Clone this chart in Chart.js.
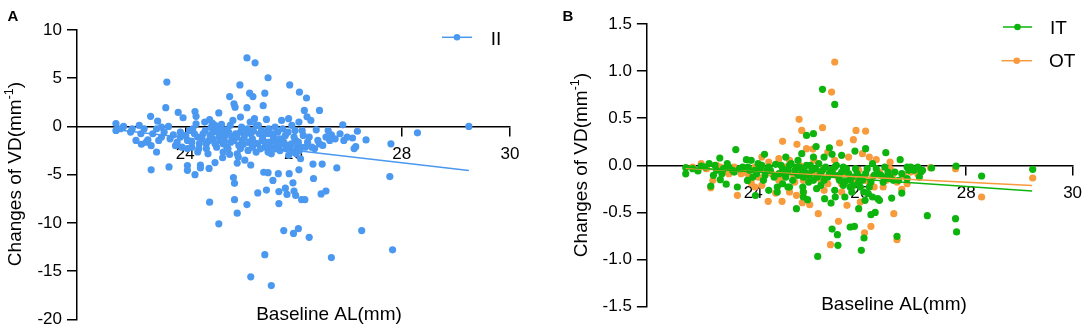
<!DOCTYPE html>
<html><head><meta charset="utf-8">
<script src="https://cdn.jsdelivr.net/npm/chart.js@4.4.1/dist/chart.umd.min.js"></script>
<style>
html,body{margin:0;padding:0;background:#fff;overflow:hidden;}
#wrap{position:relative;width:1084px;height:328px;}
#ca{position:absolute;left:0;top:0;}
#cb{position:absolute;left:540px;top:0;}
</style></head>
<body><div id="wrap"><canvas id="ca" width="540" height="328"></canvas><canvas id="cb" width="544" height="328"></canvas></div>
<script>
// ---- Panel A data (II) ----
const aX = [29.24,28.29,27.80,27.78,27.83,27.26,26.70,26.80,26.91,27.18,27.34,27.15,27.09,26.93,26.48,26.25,26.29,26.51,26.60,26.53,26.36,26.37,26.29,26.09,26.00,25.82,25.47,25.21,25.59,25.14,24.96,24.91,24.62,24.45,24.91,24.89,25.34,25.50,25.53,25.73,25.73,25.85,25.88,25.99,26.01,26.04,26.15,26.21,25.92,26.10,26.13,25.72,25.62,25.45,25.21,25.14,25.29,25.53,25.01,25.93,26.11,26.24,25.47,25.19,25.25,24.82,23.66,23.64,23.87,24.18,24.20,24.62,24.90,24.92,25.14,25.44,26.20,23.36,23.49,23.96,23.37,23.70,24.04,24.04,24.18,24.28,24.28,24.44,24.55,24.69,24.23,23.47,23.37,23.19,23.31,22.72,22.72,23.02,23.15,23.24,23.47,23.56,23.69,23.78,23.56,23.82,23.91,23.91,24.04,24.04,24.12,24.14,24.33,24.44,24.36,24.45,24.55,24.64,24.67,24.58,24.74,24.77,24.82,24.83,24.90,24.96,25.02,25.05,25.10,24.96,25.02,25.15,25.21,25.24,25.28,25.31,25.41,25.42,25.47,25.50,25.53,25.59,25.66,25.66,25.72,25.78,25.85,25.88,25.91,25.97,26.04,26.05,26.10,26.13,26.16,26.22,26.32,26.39,26.48,26.54,26.64,26.70,26.77,27.12,26.42,24.39,24.51,24.64,24.70,24.80,24.86,24.93,24.99,25.09,25.18,25.24,25.34,25.37,25.43,25.56,25.63,25.69,25.75,25.82,25.94,26.01,26.07,24.51,24.58,24.48,24.23,24.26,24.17,24.39,24.70,25.02,25.31,25.53,25.75,25.91,
  22.80,22.86,22.99,23.09,23.18,23.28,23.40,23.51,23.61,23.72,23.85,23.94,24.01,24.08,24.12,24.20,24.25,24.31,24.37,24.42,24.46,24.50,24.55,24.59,24.63,24.67,24.72,24.76,24.79,24.84,24.88,24.95,24.98,25.04,25.07,25.12,25.16,25.20,25.26,25.29,25.35,25.39,25.45,25.48,25.54,25.58,25.61,25.67,25.71,25.77,25.80,25.86,25.90,25.96,25.99,26.03,26.09,26.11,26.18,26.26,26.34,26.45,26.60,26.67,26.86,26.99];
const aY = [0,-0.66,-1.8,-5.2,-12.8,-10.8,-13.6,-4.3,0.17,-0.5,-1.4,-2.1,-1.2,-1.45,1.66,1.0,-1.1,-7.0,-6.7,-3.9,-3.9,-5.4,-11.5,-10.6,-11.1,-10.8,-13.3,-15.6,-16.5,-8.1,-9.0,-7.6,-10.1,-7.85,-5.9,-5.3,-6.9,-6.6,-4.8,-8.0,-6.75,-6.4,-7.05,-5.85,-6.7,-7.15,-7.6,-7.6,-4.9,-4.5,-3.35,-4.9,-5.6,-4.75,-4.0,7.1,6.6,5.05,4.3,4.3,3.55,2.95,3.45,3.45,3.1,3.1,4.6,1.95,1.45,1.55,1.05,1.4,2.35,2.0,1.95,2.15,1.66,1.05,0.55,0.9,-4.5,-4.2,-4.05,-4.55,-5.0,-4.3,-4.0,-4.35,-3.75,-3.25,-2.65,-2.65,-2.0,-1.85,-1.4,0.3,-0.42,-0.24,0.1,-0.24,-0.24,-0.07,0,-0.87,-1.1,-2.0,-1.1,-0.6,-1.45,-2.3,-2.15,-0.24,-0.76,-1.45,0.45,0.7,0.1,-0.24,-0.76,-2.15,-0.93,-2.15,-2.9,0.1,-1.45,-2.84,-0.6,-1.45,-3.5,-3.8,0.97,-0.24,-0.76,-2.15,0.8,0.1,-0.42,-1.45,-2.15,0.73,-0.76,-2.84,-0.07,-1.45,-2.15,0.62,-0.93,-1.97,0.8,0.1,-1.45,-2.84,0.45,-2.15,-0.42,-2.15,0.62,-2.3,-1.8,-1.97,-0.42,-0.87,-1.28,-2.3,-0.35,-1.8,-1.28,-1.45,-1.8,-0.59,-1.1,-0.76,-1.97,-1.1,-1.63,-1.28,-1.8,-0.76,-1.1,-1.63,-1.1,-1.8,-1.28,-1.63,-2.3,-1.1,-2.15,-0.59,-0.07,-0.07,-1.1,-1.8,-0.76,-2.3,-2.66,-2.3,-2.66,-2.66,-2.5,-3.0,
  -0.24,0,-0.59,-1.45,-0.76,-1.63,-0.76,-1.45,-0.59,-1.28,-1.63,-2.15,-0.93,-0.42,-1.63,0.28,-2.32,-1.28,-0.42,-2.84,-0.93,0.35,-1.8,-0.59,-1.1,0.21,-1.45,-0.35,-2.32,-1.63,0.62,-1.1,-3.18,-0.07,-1.87,-0.69,-2.49,0.45,-0.48,-1.73,0.1,-2.32,-0.59,-1.63,-0.24,-2.15,-0.76,-2.32,-0.59,-1.8,-0.24,-2.32,-0.59,-1.8,-2.66,-0.42,-1.63,-2.49,-0.93,-1.63,-2.15,-1.45,-1.1,-1.45,-0.76,-1.1];
const aFitX = [22.73, 29.24];
const aFitY = [-0.34, -4.57];
const aXTicks = [24, 26, 28, 30];
const aYTicks = [10, 5, 0, -5, -10, -15, -20];

// ---- Panel B data (IT, OT) ----
const itX = [22.73,22.73,23.02,23.17,23.20,23.37,23.25,23.38,23.49,23.51,23.67,23.70,23.87,23.89,24.04,23.96,24.09,24.21,24.26,24.29,24.45,24.45,24.55,24.61,24.65,24.81,24.93,24.94,25.00,25.02,25.13,25.18,25.13,25.19,25.21,25.30,25.34,25.43,25.46,25.48,25.48,25.53,25.54,25.58,25.59,25.69,25.82,25.90,25.91,25.98,26.03,26.08,26.10,26.11,26.16,26.21,26.29,26.34,26.37,26.49,26.50,26.60,26.66,26.70,26.76,26.79,26.89,26.96,27.15,27.27,27.35,27.80,27.82,27.81,28.29,29.25,23.90,24.03,24.16,24.29,24.42,24.55,24.68,24.78,24.87,24.97,25.07,25.17,25.27,25.36,25.46,25.56,25.66,25.75,25.85,25.95,26.05,26.14,26.24,26.34,26.44,26.53,26.63,26.73,26.89,27.02,27.12,24.48,24.61,24.74,24.84,24.94,25.04,25.20,25.33,25.43,25.62,25.72,25.82,25.88,25.98,26.08,26.18,26.27,24.22,24.06,23.74,23.61,23.44,23.31,
  22.86,22.96,23.09,23.28,23.41,23.54,23.64,23.80,23.93,23.99,24.13,24.19,24.32,24.39,24.52,24.58,24.65,24.71,24.81,24.84,24.91,25.00,25.04,25.10,25.13,25.23,25.30,25.40,25.49,25.53,25.60,25.69,25.79,25.82,25.92,26.01,26.11,26.21,26.31,26.40,26.47,26.57,26.79,26.92,27.09,27.18,24.68,24.94,25.27,25.53,25.72,25.85,26.01,26.24,24.91,25.33,25.66];
const itY = [-0.09,-0.025,-0.007,0.018,-0.22,0.078,-0.106,-0.152,-0.2,0.018,0.167,-0.23,0.06,-0.16,-0.32,0.053,0.018,0.117,-0.053,-0.265,-0.23,-0.283,-0.195,0.088,-0.23,-0.46,-0.23,-0.336,0.318,-0.364,0.336,0.2,0.088,-0.248,-0.966,0.807,-0.354,0.187,-0.4,0.117,-0.676,0.647,-0.336,-0.736,-0.849,-0.212,-0.654,-0.647,0.152,-0.46,-0.902,-0.771,-0.371,0.177,-0.3,-0.523,-0.5,-0.354,-0.371,0.134,-0.124,-0.347,-0.071,-0.753,0.06,-0.294,-0.018,-0.018,-0.071,-0.534,-0.028,-0.566,-0.707,-0.007,-0.113,-0.042,-0.018,-0.053,0,-0.018,0.011,-0.035,0,-0.053,-0.018,-0.071,0,-0.035,-0.088,-0.018,-0.053,0,-0.071,-0.035,-0.124,-0.088,-0.159,-0.035,0.018,-0.088,-0.177,-0.071,-0.159,-0.159,-0.141,-0.053,-0.124,-0.088,-0.124,-0.159,0.053,-0.124,-0.177,-0.124,-0.159,-0.088,-0.159,-0.177,-0.23,-0.212,-0.177,-0.283,-0.23,-0.106,-0.106,-0.088,-0.035,-0.053,-0.035,-0.053,
  -0.035,-0.06,-0.018,0,-0.088,-0.018,-0.071,-0.018,-0.053,-0.124,-0.035,-0.159,-0.053,-0.124,0,-0.088,-0.053,0.018,-0.018,-0.106,-0.053,0,-0.106,-0.053,-0.159,0.018,-0.053,-0.124,-0.088,-0.018,-0.106,-0.018,-0.088,-0.159,-0.035,-0.124,-0.088,-0.177,-0.035,-0.106,-0.018,-0.124,-0.088,-0.053,-0.018,-0.053,-0.23,-0.283,-0.212,-0.265,-0.336,-0.283,-0.23,-0.336,0.124,0.088,0.106];
const otX = [25.53,25.47,24.86,24.91,25.30,24.55,24.82,25.00,25.12,25.62,25.93,26.11,25.88,26.05,26.31,26.57,23.02,23.20,23.24,23.44,23.70,23.96,24.16,24.28,24.54,24.81,24.92,25.06,25.22,25.45,25.60,25.76,26.01,26.09,26.21,26.64,26.70,26.79,26.70,27.09,27.33,27.80,28.29,29.25,24.42,24.68,24.94,25.33,25.66,25.85,26.18,26.44,24.29,24.68,25.14,25.53,25.79,23.90,24.09,24.48,24.74,25.00,25.20,25.40,25.59,25.72,25.92,26.24,26.37,26.50,26.83,26.96,23.64,23.31,23.77,24.22,24.61,24.87,25.33,25.98,26.57,
  22.86,23.12,23.38,23.54,23.83,24.03,24.35,24.55,24.78,24.94,25.07,25.27,25.49,25.66,25.82,26.11,26.27,26.63,26.89,24.16,24.48,25.40,26.18,24.94,24.03];
const otY = [1.097,0.778,0.488,0.371,0.4,0.255,0.223,0.177,0.173,0.237,0.371,0.364,0.272,0.124,0.06,0.035,0.018,-0.237,-0.159,-0.071,-0.318,-0.187,-0.212,-0.382,-0.382,-0.318,-0.396,-0.417,-0.513,-0.842,-0.594,-0.424,-0.389,-0.715,-0.647,-0.513,-0.789,-0.255,-0.177,-0.088,-0.025,-0.035,-0.336,-0.134,-0.294,-0.283,-0.283,-0.265,-0.283,-0.23,-0.177,-0.23,0.035,0.053,0.053,0.053,0.088,-0.088,-0.124,-0.159,-0.088,-0.141,-0.071,-0.195,-0.124,-0.088,-0.159,-0.124,-0.071,-0.159,-0.106,-0.071,-0.018,0,-0.088,-0.053,-0.018,0,-0.035,-0.053,-0.035,
  -0.018,-0.035,-0.018,-0.088,-0.071,-0.018,-0.088,-0.124,-0.177,-0.035,-0.088,-0.159,-0.053,-0.195,-0.124,-0.159,-0.23,-0.088,-0.195,0.088,0.071,0.141,0.088,-0.159,-0.23];
const itFitX = [22.73, 29.24];
const itFitY = [-0.02, -0.273];
const otFitX = [22.73, 29.24];
const otFitY = [-0.03, -0.215];
const bXTicks = [24, 26, 28, 30];
const bYTicks = [1.5, 1.0, 0.5, 0.0, -0.5, -1.0, -1.5];

// ---- styling ----
const FONT = 'Arial, "Liberation Sans", sans-serif';
const BLUE = '#4a98f0', GREEN = '#0db40d', ORANGE = '#f79b3c';
const zip = (xs, ys) => xs.map((x, i) => ({x: x, y: ys[i]}));

function pointSet(label, xs, ys, color) {
  return {type: 'scatter', label: label, data: zip(xs, ys), backgroundColor: color, borderColor: color,
    borderWidth: 0, pointRadius: 3.6, pointHoverRadius: 3.6, clip: false};
}
function fitSet(xs, ys, color) {
  return {type: 'line', label: 'fit', data: zip(xs, ys), borderColor: color, borderWidth: 1.5,
    pointRadius: 0, fill: false, tension: 0};
}
function scalesFor(xTicks, yTicks, yMin, yMax, yWidth, yFmt) {
  return {
    x: {type: 'linear', min: 22, max: 30, position: {y: 0},
      afterBuildTicks: s => { s.ticks = xTicks.map(v => ({value: v})); },
      afterFit: s => { s.paddingLeft = 0; s.paddingRight = 0; },
      grid: {drawOnChartArea: false, drawTicks: true, tickLength: 9, color: '#000', lineWidth: 1.5},
      border: {display: true, color: '#000', width: 1.5},
      ticks: {color: '#000', font: {family: FONT, size: 17}, padding: 9, maxRotation: 0, autoSkip: false,
        callback: v => String(v)}},
    y: {type: 'linear', min: yMin, max: yMax, position: 'left',
      afterBuildTicks: s => { s.ticks = yTicks.map(v => ({value: v})); },
      afterFit: s => { s.width = yWidth; s.paddingTop = 0; s.paddingBottom = 0; },
      grid: {drawOnChartArea: false, drawTicks: true, tickLength: 10, color: '#000', lineWidth: 1.5},
      border: {display: true, color: '#000', width: 1.5},
      ticks: {color: '#000', font: {family: FONT, size: 17}, padding: 5, autoSkip: false, callback: yFmt}}
  };
}
function decor(o) {
  return {id: 'decor', afterDraw(chart) {
    const c = chart.ctx;
    c.save();
    c.fillStyle = '#000';
    c.font = 'bold 15px ' + FONT; c.textAlign = 'left'; c.textBaseline = 'alphabetic';
    c.fillText(o.letter, o.letterX, 20.7);
    c.font = '19px ' + FONT; c.textAlign = 'center';
    c.fillText('Baseline AL(mm)', o.xtX, o.xtY);
    c.translate(o.ytX, o.ytY); c.rotate(-Math.PI / 2);
    c.textAlign = 'left';
    const f1 = '19px ' + FONT, f2 = '12.5px ' + FONT;
    c.font = f1; const w1 = c.measureText('Changes of VD(mm').width; const w3 = c.measureText(')').width;
    c.font = f2; const w2 = c.measureText('-1').width;
    let sx = -(w1 + w2 + w3) / 2;
    c.font = f1; c.fillText('Changes of VD(mm', sx, 0); sx += w1;
    c.font = f2; c.fillText('-1', sx, -7.5); sx += w2;
    c.font = f1; c.fillText(')', sx, 0);
    c.restore();
    c.save();
    o.legend.forEach(it => {
      c.strokeStyle = it.color; c.lineWidth = 1.5;
      c.beginPath(); c.moveTo(it.x1, it.y); c.lineTo(it.x2, it.y); c.stroke();
      c.fillStyle = it.color; c.beginPath(); c.arc((it.x1 + it.x2) / 2, it.y, 3.3, 0, Math.PI * 2); c.fill();
      c.fillStyle = '#000'; c.font = '19px ' + FONT; c.textAlign = 'left'; c.textBaseline = 'alphabetic';
      c.fillText(it.text, it.tx, it.ty);
    });
    c.restore();
  }};
}

new Chart(document.getElementById('ca'), {
  type: 'scatter',
  data: {datasets: [fitSet(aFitX, aFitY, BLUE), pointSet('II', aX, aY, BLUE)]},
  options: {responsive: false, animation: false, events: [],
    layout: {padding: {top: 30, bottom: 8.7, left: 0, right: 30}},
    plugins: {legend: {display: false}, tooltip: {enabled: false}},
    scales: scalesFor(aXTicks, aYTicks, -20, 10, 77, v => String(v))},
  plugins: [decor({letter: 'A', letterX: 7.6, xtX: 329, xtY: 320, ytX: 20.5, ytY: 174,
    legend: [{color: BLUE, x1: 442, x2: 472, y: 37.3, text: 'II', tx: 490.7, ty: 45}]})]
});

new Chart(document.getElementById('cb'), {
  type: 'scatter',
  data: {datasets: [fitSet(itFitX, itFitY, GREEN), fitSet(otFitX, otFitY, ORANGE),
    pointSet('IT', itX, itY, GREEN), pointSet('OT', otX, otY, ORANGE)]},
  options: {responsive: false, animation: false, events: [],
    layout: {padding: {top: 24, bottom: 21.3, left: 0, right: 11.4}},
    plugins: {legend: {display: false}, tooltip: {enabled: false}},
    scales: scalesFor(bXTicks, bYTicks, -1.5, 1.5, 106.9, v => Number(v).toFixed(1))},
  plugins: [decor({letter: 'B', letterX: 22.6, xtX: 354, xtY: 310, ytX: 46.6, ytY: 165,
    legend: [{color: GREEN, x1: 463, x2: 492, y: 27, text: 'IT', tx: 510, ty: 34},
             {color: ORANGE, x1: 461.5, x2: 492, y: 60.7, text: 'OT', tx: 509, ty: 67.3}]})]
});
</script>
</body></html>
